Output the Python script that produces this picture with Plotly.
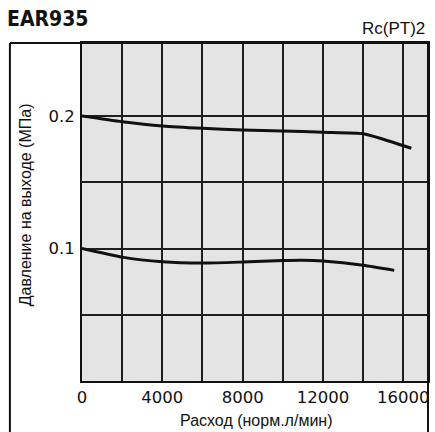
import plotly.graph_objects as go

# Data
flow_upper = [0, 2000, 4000, 6000, 8000, 10000, 12000, 14000, 15000, 16400]
pressure_upper = [0.200, 0.1957, 0.1925, 0.1907, 0.1894, 0.1887, 0.1877, 0.1866, 0.1825, 0.1757]

flow_lower = [0, 2000, 4000, 6000, 8000, 10000, 11000, 12000, 14000, 15550]
pressure_lower = [0.100, 0.0935, 0.0900, 0.0890, 0.0898, 0.0910, 0.0912, 0.0905, 0.0873, 0.0835]

x_grid = [0, 2000, 4000, 6000, 8000, 10000, 12000, 14000, 16000]
x_ticktext = ["0", "", "4000", "", "8000", "", "12000", "", "16000"]
y_grid = [0.05, 0.10, 0.15, 0.20]
y_ticktext = ["", "0.1", "", "0.2"]

title_text = "EAR935"
subtitle_text = "Rc(PT)2"
x_title = "Расход (норм.л/мин)"
y_title = "Давление на выходе (МПа)"

W, H = 435, 432
L, R, T, B = 82, 5, 43, 51
pw, ph = W - L - R, H - T - B

def px(xp):
    return (xp - L) / pw

def py(yp):
    return (H - B - yp) / ph

fig = go.Figure()
for fx, fy in [(flow_upper, pressure_upper), (flow_lower, pressure_lower)]:
    fig.add_trace(go.Scatter(
        x=fx, y=fy, mode="lines",
        line=dict(color="#111111", width=3, shape="spline", smoothing=0.6),
        showlegend=False, hoverinfo="skip"))

tick_font = dict(family="DejaVu Sans, Liberation Sans, sans-serif", size=16.5, color="#111111")

fig.update_layout(
    width=W, height=H,
    margin=dict(l=L, r=R, t=T, b=B, pad=0),
    paper_bgcolor="white",
    plot_bgcolor="#e4e4e4",
    xaxis=dict(
        range=[0, 17230], tickvals=x_grid, ticktext=x_ticktext,
        showgrid=True, gridcolor="#1e1e1e", gridwidth=1.6,
        showline=True, linecolor="#111111", linewidth=2, mirror=True,
        ticks="", zeroline=False, tickfont=tick_font, fixedrange=True,
    ),
    yaxis=dict(
        range=[0, 0.2551], tickvals=y_grid, ticktext=y_ticktext,
        showgrid=True, gridcolor="#1e1e1e", gridwidth=1.6,
        showline=True, linecolor="#111111", linewidth=2, mirror=True,
        ticks="", zeroline=False, tickfont=tick_font, fixedrange=True,
        ticklabelstandoff=2,
    ),
    shapes=[
        dict(type="line", xref="paper", yref="paper", x0=px(9.5), x1=px(430), y0=1, y1=1,
             line=dict(color="#111111", width=2)),
        dict(type="line", xref="paper", yref="paper", x0=px(9.5), x1=px(9.5), y0=py(432), y1=1,
             line=dict(color="#111111", width=2)),
        dict(type="line", xref="paper", yref="paper", x0=px(430), x1=px(430), y0=py(432), y1=1,
             line=dict(color="#111111", width=2)),
    ],
    annotations=[
        dict(text="<b>" + title_text + "</b>", xref="paper", yref="paper",
             x=px(5), y=py(19), xanchor="left", yanchor="middle", showarrow=False,
             font=dict(family="DejaVu Sans Condensed, DejaVu Sans, sans-serif", size=21, color="#111111")),
        dict(text=subtitle_text, xref="paper", yref="paper",
             x=px(429), y=py(28), xanchor="right", yanchor="middle", showarrow=False,
             font=dict(family="Liberation Sans, Arial, sans-serif", size=17, color="#111111")),
        dict(text=x_title, xref="paper", yref="paper",
             x=px(257), y=py(420), xanchor="center", yanchor="middle", showarrow=False,
             font=dict(family="Liberation Sans Narrow, Liberation Sans, sans-serif", size=16, color="#111111")),
        dict(text=y_title, xref="paper", yref="paper", textangle=-90,
             x=px(25), y=py(205), xanchor="center", yanchor="middle", showarrow=False,
             font=dict(family="Liberation Sans Narrow, Liberation Sans, sans-serif", size=16, color="#111111")),
    ],
)

fig.write_html("out.html", config={"displayModeBar": False},
               post_script="document.body.style.margin='0';")
